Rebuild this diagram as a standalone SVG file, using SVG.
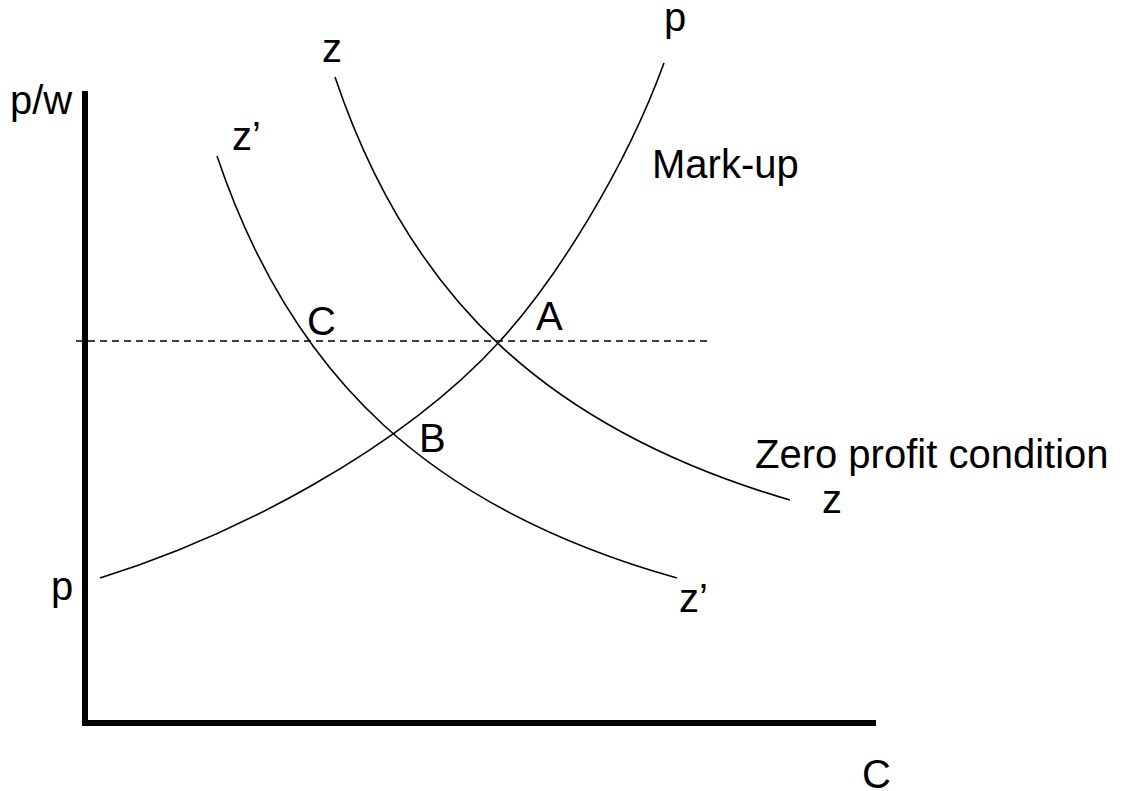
<svg xmlns="http://www.w3.org/2000/svg" width="1130" height="791" viewBox="0 0 1130 791">
<style>
.lbl{font-family:"Liberation Sans",Arial,sans-serif;font-size:40px;fill:#000}
.crv{fill:none;stroke:#000;stroke-width:1.6}
.axis{fill:none;stroke:#000;stroke-width:6;stroke-linecap:square;stroke-linejoin:miter}
</style>
<rect width="1130" height="791" fill="#fff"/>
<g id="axes">
<path class="axis" d="M85,94 V723 H873"/>
</g>
<g id="connectors">
<line x1="76" y1="341" x2="707" y2="341" stroke="#000" stroke-width="1.4" stroke-dasharray="7,5"/>
<path id="curve-p" class="crv" d="M100,578 C230,538 400,451 500,341 C555,281 625,170 664,63"/>
<path id="curve-z" class="crv" d="M335,77 C410,300 550,430 790,500"/>
<path id="curve-z2" class="crv" d="M217,156 C292,379 432,509 677,578"/>
</g>
<g id="labels">
<text class="lbl" x="10" y="114">p/w</text>
<text class="lbl" x="322" y="62">z</text>
<text class="lbl" x="664" y="31">p</text>
<text class="lbl" x="232" y="150">z’</text>
<text class="lbl" x="652" y="178">Mark-up</text>
<text class="lbl" x="307" y="335">C</text>
<text class="lbl" x="536" y="330">A</text>
<text class="lbl" x="419" y="452">B</text>
<text class="lbl" x="755" y="468">Zero profit condition</text>
<text class="lbl" x="822" y="513">z</text>
<text class="lbl" x="51" y="600">p</text>
<text class="lbl" x="679" y="612">z’</text>
<text class="lbl" x="862" y="788">C</text>
</g>
</svg>
